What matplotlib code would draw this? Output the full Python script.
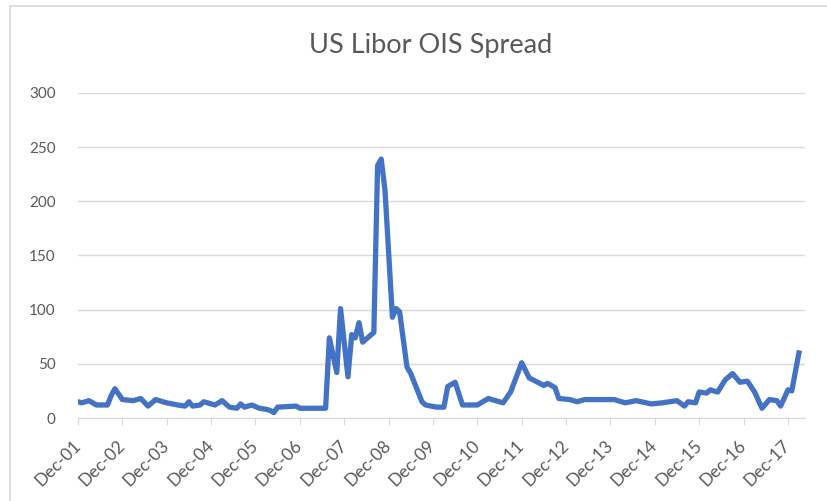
import pandas as pd
import matplotlib.pyplot as plt
from matplotlib.patches import Rectangle

# spread readings (bp)
dates = ['2001-12', '2002-01', '2002-03', '2002-05', '2002-07', '2002-08', '2002-09',
         '2002-10', '2002-12', '2003-03', '2003-05', '2003-07', '2003-09', '2003-12',
         '2004-03', '2004-05', '2004-06', '2004-07', '2004-09', '2004-10', '2005-01',
         '2005-03', '2005-05', '2005-07', '2005-08', '2005-09', '2005-11', '2006-01',
         '2006-03', '2006-04', '2006-05', '2006-06', '2006-11', '2006-12', '2007-07',
         '2007-08', '2007-10', '2007-11', '2008-01', '2008-02', '2008-03', '2008-04',
         '2008-05', '2008-08', '2008-09', '2008-10', '2008-11', '2009-01', '2009-02',
         '2009-03', '2009-05', '2009-06', '2009-09', '2009-10', '2010-01', '2010-03',
         '2010-04', '2010-06', '2010-08', '2010-12', '2011-03', '2011-07', '2011-09',
         '2011-12', '2012-02', '2012-06', '2012-07', '2012-09', '2012-10', '2013-01',
         '2013-03', '2013-05', '2013-09', '2014-01', '2014-04', '2014-07', '2014-11',
         '2015-02', '2015-06', '2015-08', '2015-09', '2015-11', '2015-12', '2016-02',
         '2016-03', '2016-05', '2016-07', '2016-09', '2016-11', '2017-01', '2017-03',
         '2017-05', '2017-07', '2017-09', '2017-10', '2017-12', '2018-01', '2018-03']
spread = [15, 14, 16, 12, 12, 12, 21,
          27, 17, 16, 18, 11, 17, 14,
          12, 11, 15, 11, 12, 15, 12,
          16, 10, 9, 13, 10, 12, 9,
          8, 7, 5, 10, 11, 9, 9,
          74, 42, 101, 38, 77, 74, 88,
          70, 79, 233, 239, 210, 93, 101,
          98, 47, 41, 15, 12, 10, 10,
          29, 33, 12, 12, 18, 14, 24,
          51, 37, 30, 32, 28, 18, 17,
          15, 17, 17, 17, 14, 16, 13,
          14, 16, 11, 15, 14, 24, 23,
          26, 24, 35, 41, 33, 34, 24,
          9, 17, 16, 11, 26, 25, 60]
tick_years = list(range(2001, 2018))

x = pd.to_datetime(dates)
grey_txt = '#595959'

plt.rcParams['font.family'] = ['Lato', 'DejaVu Sans']

fig = plt.figure(figsize=(8.28, 5.01), dpi=100)
ax = fig.add_axes([78/828, 83/501, 727/828, 325/501])

# chart frame like the excel export
fig.patches.append(Rectangle((10/828, -0.1), 1.0, 1.1 - 6/501, transform=fig.transFigure,
                             fill=False, edgecolor='#D9D9D9', linewidth=1.2))

ax.plot(x, spread, color='#4472C4', linewidth=3.8, solid_joinstyle='round')

ax.set_ylim(0, 300)
ax.set_yticks(range(0, 301, 50))
ax.set_xlim(pd.Timestamp('2001-12-01'), pd.Timestamp('2018-04-20'))
ticks = [pd.Timestamp(f'{y}-12-01') for y in tick_years]
ax.set_xticks(ticks)
ax.set_xticklabels([t.strftime('Dec-%y') for t in ticks], rotation=45, ha='right',
                   va='center', rotation_mode='anchor', fontsize=12.5, color=grey_txt)

ax.grid(axis='y', color='#D9D9D9', linewidth=1)
ax.set_axisbelow(True)
for s in ['top', 'right', 'left']:
    ax.spines[s].set_visible(False)
ax.spines['bottom'].set_color('#D9D9D9')
ax.tick_params(axis='x', length=5, color='#D9D9D9', pad=13)
ax.tick_params(axis='y', length=0, pad=16, labelsize=11, labelcolor=grey_txt)

fig.text(0.52, 0.91, 'US Libor OIS Spread', ha='center', va='center',
         fontsize=19.5, color=grey_txt)

fig.savefig('out.png', dpi=100)
